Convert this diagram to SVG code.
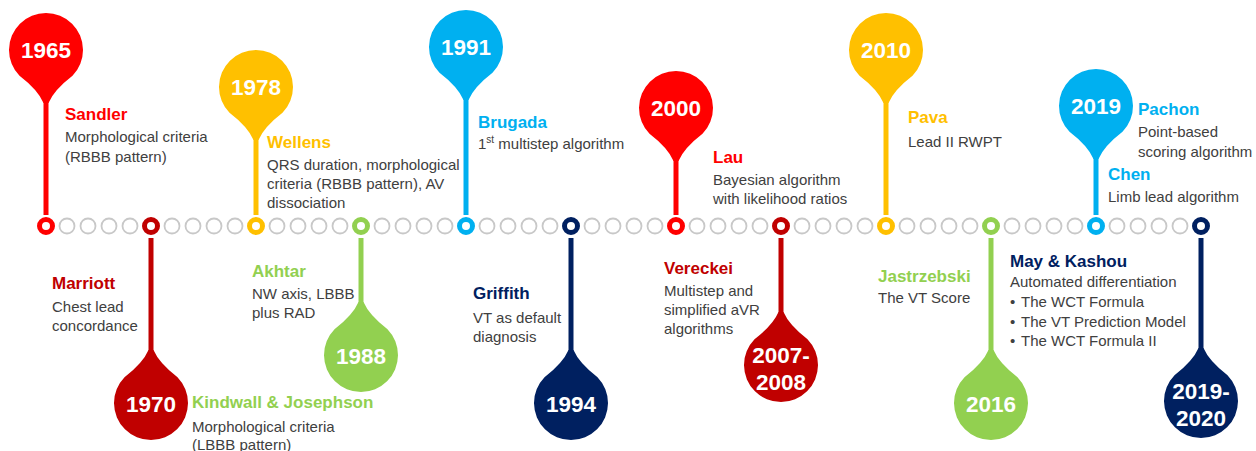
<svg xmlns="http://www.w3.org/2000/svg" width="1256" height="451" viewBox="0 0 1256 451">
<style>
.yr{font-family:"Liberation Sans",Arial,sans-serif;font-weight:bold;font-size:22.5px;fill:#fff;text-anchor:middle;dominant-baseline:central}
.nm{font-family:"Liberation Sans",Arial,sans-serif;font-weight:bold;font-size:17px}
.ds{font-family:"Liberation Sans",Arial,sans-serif;font-size:15px;fill:#404040}
.g{fill:#fff;stroke:#c8c8c8;stroke-width:1.8}
.c{fill:#fff;stroke-width:5}
.st{stroke-width:5}
.red{fill:#ff0000;stroke:#ff0000}
.dred{fill:#c00000;stroke:#c00000}
.yel{fill:#ffc000;stroke:#ffc000}
.grn{fill:#92d050;stroke:#92d050}
.blu{fill:#00b0f0;stroke:#00b0f0}
.nav{fill:#002060;stroke:#002060}
.tred{fill:#ff0000}.tdred{fill:#c00000}.tyel{fill:#ffc000}.tgrn{fill:#92d050}.tblu{fill:#00b0f0}.tnav{fill:#002060}
</style>
<defs>
<path id="pin" d="M 26.5 25.8 Q 8 40 2.5 53 L -2.5 53 Q -8 40 -26.5 25.8 A 37 37 0 1 1 26.5 25.8 Z" stroke="none"/>
</defs>

<g id="timeline">
<g class="g">
<circle cx="67" cy="226" r="7.5"/><circle cx="88" cy="226" r="7.5"/><circle cx="109" cy="226" r="7.5"/><circle cx="130" cy="226" r="7.5"/>
<circle cx="172" cy="226" r="7.5"/><circle cx="193" cy="226" r="7.5"/><circle cx="214" cy="226" r="7.5"/><circle cx="235" cy="226" r="7.5"/>
<circle cx="277" cy="226" r="7.5"/><circle cx="298" cy="226" r="7.5"/><circle cx="319" cy="226" r="7.5"/><circle cx="340" cy="226" r="7.5"/>
<circle cx="382" cy="226" r="7.5"/><circle cx="403" cy="226" r="7.5"/><circle cx="424" cy="226" r="7.5"/><circle cx="445" cy="226" r="7.5"/>
<circle cx="487" cy="226" r="7.5"/><circle cx="508" cy="226" r="7.5"/><circle cx="529" cy="226" r="7.5"/><circle cx="550" cy="226" r="7.5"/>
<circle cx="592" cy="226" r="7.5"/><circle cx="613" cy="226" r="7.5"/><circle cx="634" cy="226" r="7.5"/><circle cx="655" cy="226" r="7.5"/>
<circle cx="697" cy="226" r="7.5"/><circle cx="718" cy="226" r="7.5"/><circle cx="739" cy="226" r="7.5"/><circle cx="760" cy="226" r="7.5"/>
<circle cx="802" cy="226" r="7.5"/><circle cx="823" cy="226" r="7.5"/><circle cx="844" cy="226" r="7.5"/><circle cx="865" cy="226" r="7.5"/>
<circle cx="907" cy="226" r="7.5"/><circle cx="928" cy="226" r="7.5"/><circle cx="949" cy="226" r="7.5"/><circle cx="970" cy="226" r="7.5"/>
<circle cx="1012" cy="226" r="7.5"/><circle cx="1033" cy="226" r="7.5"/><circle cx="1054" cy="226" r="7.5"/><circle cx="1075" cy="226" r="7.5"/>
<circle cx="1117" cy="226" r="7.5"/><circle cx="1138" cy="226" r="7.5"/><circle cx="1159" cy="226" r="7.5"/><circle cx="1180" cy="226" r="7.5"/>
</g>
</g>

<g id="connectors">
<line class="st red" x1="46" y1="100" x2="46" y2="215"/>
<line class="st dred" x1="151" y1="238" x2="151" y2="353"/>
<line class="st yel" x1="256" y1="137" x2="256" y2="215"/>
<line class="st grn" x1="361" y1="238" x2="361" y2="305"/>
<line class="st blu" x1="466" y1="97" x2="466" y2="215"/>
<line class="st nav" x1="571" y1="238" x2="571" y2="353"/>
<line class="st red" x1="676" y1="158" x2="676" y2="215"/>
<line class="st dred" x1="781" y1="238" x2="781" y2="315"/>
<line class="st yel" x1="886" y1="100" x2="886" y2="215"/>
<line class="st grn" x1="991" y1="238" x2="991" y2="353"/>
<line class="st blu" x1="1096" y1="156" x2="1096" y2="215"/>
<line class="st nav" x1="1201" y1="238" x2="1201" y2="351"/>
</g>

<g id="n1965">
<use href="#pin" class="red" transform="translate(46,50)"/>
<text class="yr" x="46" y="50">1965</text>
<circle class="c red" cx="46" cy="226" r="6.5" style="fill:#fff"/>
<text class="nm tred" x="65" y="120">Sandler</text>
<text class="ds" x="65" y="142">Morphological criteria</text>
<text class="ds" x="65" y="162">(RBBB pattern)</text>
</g>

<g id="n1970">
<use href="#pin" class="dred" transform="translate(151,403) scale(1,-1)"/>
<text class="yr" x="151" y="404">1970</text>
<circle class="c dred" cx="151" cy="226" r="6.5" style="fill:#fff"/>
<text class="nm tdred" x="52" y="289">Marriott</text>
<text class="ds" x="52" y="312">Chest lead</text>
<text class="ds" x="52" y="331">concordance</text>
<text class="nm tgrn" x="192" y="408">Kindwall &amp; Josephson</text>
<text class="ds" x="192" y="432">Morphological criteria</text>
<text class="ds" x="192" y="450">(LBBB pattern)</text>
</g>

<g id="n1978">
<use href="#pin" class="yel" transform="translate(256,87)"/>
<text class="yr" x="256" y="87">1978</text>
<circle class="c yel" cx="256" cy="226" r="6.5" style="fill:#fff"/>
<text class="nm tyel" x="267" y="148">Wellens</text>
<text class="ds" x="267" y="170">QRS duration, morphological</text>
<text class="ds" x="267" y="189">criteria (RBBB pattern), AV</text>
<text class="ds" x="267" y="208">dissociation</text>
</g>

<g id="n1988">
<use href="#pin" class="grn" transform="translate(361,355) scale(1,-1)"/>
<text class="yr" x="361" y="356">1988</text>
<circle class="c grn" cx="361" cy="226" r="6.5" style="fill:#fff"/>
<text class="nm tgrn" x="252" y="277">Akhtar</text>
<text class="ds" x="252" y="299">NW axis, LBBB</text>
<text class="ds" x="252" y="318">plus RAD</text>
</g>

<g id="n1991">
<use href="#pin" class="blu" transform="translate(466,47)"/>
<text class="yr" x="466" y="47">1991</text>
<circle class="c blu" cx="466" cy="226" r="6.5" style="fill:#fff"/>
<text class="nm tblu" x="478" y="128">Brugada</text>
<text class="ds" x="478" y="149">1<tspan font-size="10" dy="-6">st</tspan><tspan dy="6"> multistep algorithm</tspan></text>
</g>

<g id="n1994">
<use href="#pin" class="nav" transform="translate(571,403) scale(1,-1)"/>
<text class="yr" x="571" y="404">1994</text>
<circle class="c nav" cx="571" cy="226" r="6.5" style="fill:#fff"/>
<text class="nm tnav" x="473" y="299">Griffith</text>
<text class="ds" x="473" y="323">VT as default</text>
<text class="ds" x="473" y="342">diagnosis</text>
</g>

<g id="n2000">
<use href="#pin" class="red" transform="translate(676,108)"/>
<text class="yr" x="676" y="108">2000</text>
<circle class="c red" cx="676" cy="226" r="6.5" style="fill:#fff"/>
<text class="nm tred" x="713" y="163">Lau</text>
<text class="ds" x="713" y="185">Bayesian algorithm</text>
<text class="ds" x="713" y="204">with likelihood ratios</text>
</g>

<g id="n2007">
<use href="#pin" class="dred" transform="translate(781,365) scale(1,-1)"/>
<text class="yr" x="781" y="355">2007-</text>
<text class="yr" x="781" y="382">2008</text>
<circle class="c dred" cx="781" cy="226" r="6.5" style="fill:#fff"/>
<text class="nm tdred" x="664" y="274">Vereckei</text>
<text class="ds" x="664" y="296">Multistep and</text>
<text class="ds" x="664" y="315">simplified aVR</text>
<text class="ds" x="664" y="334">algorithms</text>
</g>

<g id="n2010">
<use href="#pin" class="yel" transform="translate(886,50)"/>
<text class="yr" x="886" y="50">2010</text>
<circle class="c yel" cx="886" cy="226" r="6.5" style="fill:#fff"/>
<text class="nm tyel" x="908" y="123">Pava</text>
<text class="ds" x="908" y="147">Lead II RWPT</text>
</g>

<g id="n2016">
<use href="#pin" class="grn" transform="translate(991,403) scale(1,-1)"/>
<text class="yr" x="991" y="404">2016</text>
<circle class="c grn" cx="991" cy="226" r="6.5" style="fill:#fff"/>
<text class="nm tgrn" x="878" y="282">Jastrzebski</text>
<text class="ds" x="878" y="303">The VT Score</text>
</g>

<g id="n2019">
<use href="#pin" class="blu" transform="translate(1096,106)"/>
<text class="yr" x="1096" y="106">2019</text>
<circle class="c blu" cx="1096" cy="226" r="6.5" style="fill:#fff"/>
<text class="nm tblu" x="1138" y="115">Pachon</text>
<text class="ds" x="1138" y="137">Point-based</text>
<text class="ds" x="1138" y="157">scoring algorithm</text>
<text class="nm tblu" x="1108" y="180">Chen</text>
<text class="ds" x="1108" y="202">Limb lead algorithm</text>
</g>

<g id="n2020">
<use href="#pin" class="nav" transform="translate(1201,401) scale(1,-1)"/>
<text class="yr" x="1201" y="391">2019-</text>
<text class="yr" x="1201" y="418">2020</text>
<circle class="c nav" cx="1201" cy="226" r="6.5" style="fill:#fff"/>
<text class="nm tnav" x="1010" y="267">May &amp; Kashou</text>
<text class="ds" x="1010" y="287">Automated differentiation</text>
<text class="ds" x="1010" y="307">•<tspan x="1021">The WCT Formula</tspan></text>
<text class="ds" x="1010" y="327">•<tspan x="1021">The VT Prediction Model</tspan></text>
<text class="ds" x="1010" y="346">•<tspan x="1021">The WCT Formula II</tspan></text>
</g>
</svg>
